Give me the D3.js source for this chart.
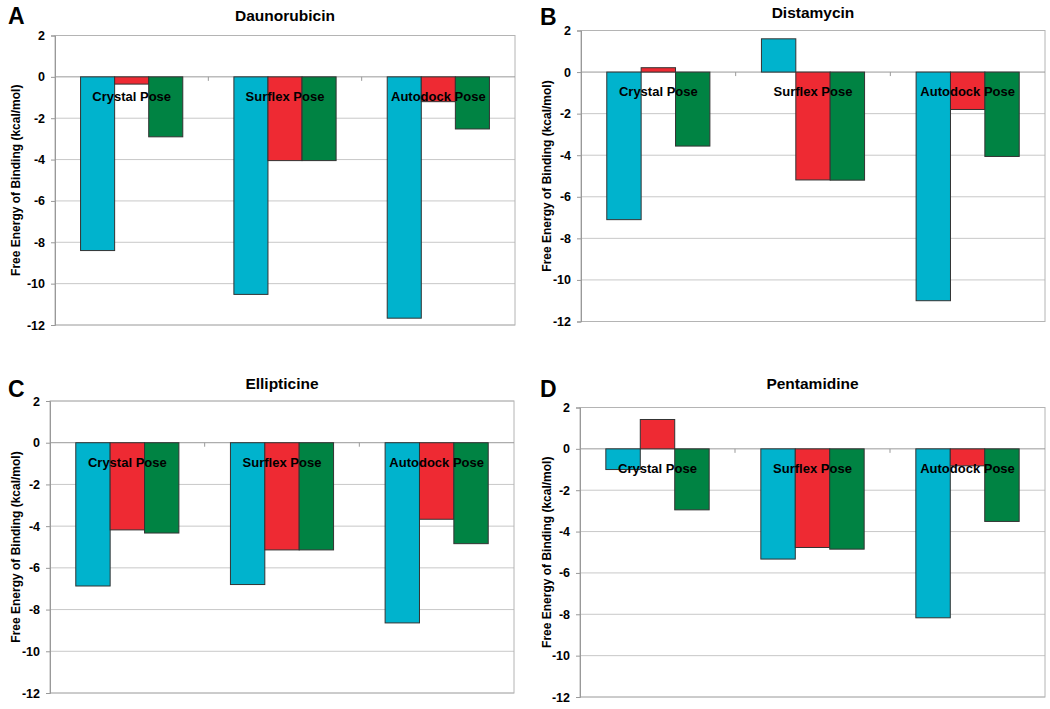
<!DOCTYPE html>
<html>
<head>
<meta charset="utf-8">
<script src="https://cdn.jsdelivr.net/npm/d3@7"></script>
<style>
    body { margin: 0; background: #fff; }
    svg { font-family: "Liberation Sans", Arial, sans-serif; }
</style>
</head>
<body>
<svg id="chart" width="1050" height="709"></svg>
<script>

// categories and ticks
const poses = ["Crystal Pose", "Surflex Pose", "Autodock Pose"];
const yTicks = [2, 0, -2, -4, -6, -8, -10, -12];
const seriesColors = ["#00B3CD", "#EE2A33", "#008343"];

// values per pose: [cyan, red, green]
const daunorubicinVals = [[-8.4, -0.35, -2.9], [-10.52, -4.05, -4.05], [-11.67, -1.2, -2.52]];
const distamycinVals = [[-7.1, 0.21, -3.56], [1.6, -5.19, -5.2], [-11.0, -1.8, -4.06]];
const ellipticineVals = [[-6.87, -4.18, -4.33], [-6.8, -5.14, -5.14], [-8.64, -3.67, -4.84]];
const pentamidineVals = [[-1.0, 1.42, -2.95], [-5.33, -4.77, -4.85], [-8.17, -0.82, -3.51]];

// layout of each panel
let panels = [
    {letter: "A", title: "Daunorubicin", values: daunorubicinVals,
        left: 55, right: 515, top: 35.5, bottom: 325, letterX: 8, letterY: 24, titleY: 21, labelX: 16},
    {letter: "B", title: "Distamycin", values: distamycinVals,
        left: 581, right: 1045, top: 30.5, bottom: 321.5, letterX: 540, letterY: 25, titleY: 18, labelX: 547},
    {letter: "C", title: "Ellipticine", values: ellipticineVals,
        left: 50, right: 514, top: 401, bottom: 693, letterX: 8, letterY: 397, titleY: 389, labelX: 16},
    {letter: "D", title: "Pentamidine", values: pentamidineVals,
        left: 580, right: 1045, top: 407.5, bottom: 697, letterX: 540, letterY: 397, titleY: 389, labelX: 547}
];

let svg = d3.select("#chart");

panels.forEach(function(p){

    let g = svg.append("g");

    let yScale = d3.scaleLinear()
        .domain([-12, 2])
        .range([p.bottom, p.top]);

    let xScale = d3.scaleBand()
        .domain(poses)
        .range([p.left, p.right]);

    // 150% gap between groups, like excel default
    let bw = xScale.bandwidth();
    let groupW = bw / 1.5;
    let xInner = d3.scaleBand()
        .domain([0, 1, 2])
        .range([(bw - groupW) / 2, (bw + groupW) / 2]);

    // gridlines
    g.selectAll(".grid").data(yTicks.filter(d => d !== 0))
        .enter().append("line")
        .attr("x1", p.left).attr("x2", p.right)
        .attr("y1", d => yScale(d)).attr("y2", d => yScale(d))
        .style("stroke", "#c8c8c8")
        .style("stroke-width", 1);

    // frame
    g.append("rect")
        .attr("x", p.left).attr("y", p.top)
        .attr("width", p.right - p.left)
        .attr("height", p.bottom - p.top)
        .style("fill", "none")
        .style("stroke", "#b4b4b4")
        .style("stroke-width", 1);

    // y axis (plain hyphen for negatives)
    let yAxis = d3.axisLeft(yScale)
        .tickValues(yTicks)
        .tickFormat(d => String(d))
        .tickSize(4)
        .tickPadding(6);

    let yAxisG = g.append("g")
        .attr("transform", "translate(" + p.left + ",0)")
        .call(yAxis);
    yAxisG.selectAll("path, line").style("stroke", "#999");
    yAxisG.selectAll("text")
        .style("font-size", "12.5px")
        .style("font-weight", "bold")
        .style("fill", "#000")
        .style("font-family", "'Liberation Sans', Arial, sans-serif");

    // zero line with category ticks
    let y0 = yScale(0);
    g.append("line")
        .attr("x1", p.left).attr("x2", p.right)
        .attr("y1", y0).attr("y2", y0)
        .style("stroke", "#999")
        .style("stroke-width", 1);

    g.selectAll(".xtick").data(poses.slice(1))
        .enter().append("line")
        .attr("x1", d => xScale(d)).attr("x2", d => xScale(d))
        .attr("y1", y0).attr("y2", y0 + 4)
        .style("stroke", "#999");

    // bars
    poses.forEach(function(pose, i){
        g.selectAll(".bar-" + i).data(p.values[i])
            .enter().append("rect")
            .attr("x", (d, j) => xScale(pose) + xInner(j))
            .attr("width", xInner.bandwidth())
            .attr("y", d => yScale(Math.max(0, d)))
            .attr("height", d => Math.abs(yScale(d) - yScale(0)))
            .style("fill", (d, j) => seriesColors[j])
            .style("stroke", "#333")
            .style("stroke-width", 1);
    });

    // category labels
    g.selectAll(".catLabel").data(poses)
        .enter().append("text")
        .attr("x", d => xScale(d) + bw / 2)
        .attr("y", y0 + 24)
        .attr("text-anchor", "middle")
        .style("font-size", "13px")
        .style("font-weight", "bold")
        .text(d => d);

    // title
    g.append("text")
        .attr("x", (p.left + p.right) / 2)
        .attr("y", p.titleY)
        .attr("text-anchor", "middle")
        .style("font-size", "15.5px")
        .style("font-weight", "bold")
        .text(p.title);

    // panel letter
    g.append("text")
        .attr("x", p.letterX)
        .attr("y", p.letterY)
        .style("font-size", "23px")
        .style("font-weight", "bold")
        .text(p.letter);

    // y axis title
    g.append("text")
        .attr("transform", "translate(" + p.labelX + "," + ((p.top + p.bottom) / 2) + ") rotate(-90)")
        .attr("text-anchor", "middle")
        .attr("dy", "0.35em")
        .style("font-size", "12px")
        .style("font-weight", "bold")
        .text("Free Energy of Binding (kcal/mol)");
});

</script>
</body>
</html>
